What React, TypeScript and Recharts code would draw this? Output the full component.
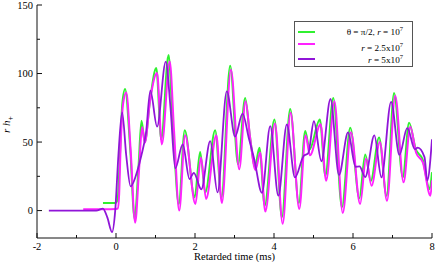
import React from 'react';
import { LineChart, Line, XAxis, YAxis, Legend, Label } from 'recharts';

// theta = pi/2, r = 1e7
const greenTime = [-0.33, -0.15, -0.02, 0.04, 0.1, 0.16, 0.23, 0.36, 0.47, 0.57, 0.645, 0.73, 0.86, 1.02, 1.145, 1.33, 1.44, 1.59, 1.74, 1.99, 2.13, 2.26, 2.51, 2.67, 2.89, 3.09, 3.27, 3.39, 3.52, 3.63, 3.765, 4.01, 4.2, 4.41, 4.63, 4.79, 4.9, 5.16, 5.3, 5.5, 5.72, 5.93, 6.16, 6.31, 6.45, 6.66, 6.85, 7.04, 7.26, 7.42, 7.59, 7.76, 7.94, 8.0];
const greenH = [5.5, 5.5, 5.6, 8, 40, 78, 88.7, 45, -6, 32, 65.5, 50, 80, 104, 52, 113.5, 62, 4.8, 58.7, 9.7, 42.8, 13.3, 58.7, 9.7, 105.6, 33.8, 82.2, 54.5, 32, 45.9, 3.6, 66.4, -4.8, 74.2, 5.6, 58, 44.7, 66.4, 25.4, 82.2, 2.4, 60.4, 9, 41, 21.7, 53.4, 10.9, 85.8, 24.2, 64, 44.7, 37.5, 15.7, 28];

// r = 2.5e7
const magentaTime = [-0.83, -0.3, 0.0, 0.045, 0.08, 0.115, 0.18, 0.26, 0.37, 0.485, 0.58, 0.66, 0.73, 0.86, 1.04, 1.16, 1.36, 1.47, 1.6, 1.75, 2.01, 2.15, 2.28, 2.54, 2.68, 2.91, 3.12, 3.28, 3.4, 3.53, 3.65, 3.78, 4.025, 4.22, 4.42, 4.64, 4.8, 4.91, 5.18, 5.32, 5.53, 5.74, 5.95, 6.18, 6.33, 6.47, 6.68, 6.86, 7.07, 7.28, 7.45, 7.6, 7.77, 7.96, 8.0];
const magentaH = [1, 1, 1.2, 1.5, 12, 44.7, 78, 86.2, 44.7, -8.9, 28, 61, 49.6, 79.7, 100.3, 48.3, 108.7, 58, 0, 54.9, 4.8, 38.7, 8.5, 54.9, 5.6, 102.7, 30.2, 79.7, 52, 29.7, 42.3, -0.7, 63.6, -9.6, 71.3, 1.2, 54.9, 40.4, 63, 21.7, 79.7, -1.7, 57.2, 4.8, 38, 18.1, 50, 7.2, 83.8, 20.6, 61.2, 42, 35, 10.9, 22];

// r = 5e7
const purpleTime = [-1.7, -0.5, -0.33, -0.22, -0.1, -0.02, 0.06, 0.155, 0.26, 0.37, 0.55, 0.64, 0.76, 0.87, 1.04, 1.26, 1.38, 1.5, 1.69, 1.86, 1.97, 2.16, 2.385, 2.57, 2.805, 3.015, 3.205, 3.36, 3.5, 3.695, 3.905, 4.11, 4.325, 4.53, 4.745, 4.87, 5.01, 5.2, 5.43, 5.645, 5.875, 6.065, 6.165, 6.31, 6.54, 6.72, 6.965, 7.175, 7.375, 7.565, 7.64, 7.81, 7.88, 8.0];
const purpleH = [0, 0, 1.5, -5, -15.7, 0, 40, 71.7, 40, 17.7, 30, 40, 56.8, 87.5, 61.3, 108.7, 75, 30.8, 48.3, 23, 27.5, 15.5, 50.7, 13.3, 87, 54, 70.8, 53.2, 37.5, 13, 61.6, 10.9, 62.8, 24.2, 39.6, 42, 65.2, 36, 81.4, 26, 57, 32, 32.2, 24.5, 54.9, 24.2, 79.3, 40.7, 60.4, 44.7, 45.9, 39, 22, 52];

const xTicks = [-2, -1, 0, 1, 2, 3, 4, 5, 6, 7, 8];
const yTicks = [0, 25, 50, 75, 100, 125, 150];

const toPoints = (ts: number[], vs: number[]) => ts.map((t, i) => ({ t, v: vs[i] }));

const serif = 'Liberation Serif, DejaVu Serif, Times New Roman, serif';

const BottomTick = (props: any) => {
  const { x, y, payload } = props;
  const major = payload.value % 2 === 0;
  return (
    <g>
      <line x1={x} y1={y} x2={x} y2={y - (major ? 5 : 3)} stroke="#111" />
      {major && (
        <text x={x} y={y + 11.5} textAnchor="middle" fontSize={10.5} style={{ fontFamily: serif }} fill="#000">
          {payload.value}
        </text>
      )}
    </g>
  );
};

const TopTick = (props: any) => {
  const { x, y, payload } = props;
  const major = payload.value % 2 === 0;
  return <line x1={x} y1={y} x2={x} y2={y + (major ? 5 : 3)} stroke="#111" />;
};

const LeftTick = (props: any) => {
  const { x, y, payload } = props;
  const major = payload.value % 50 === 0;
  return (
    <g>
      <line x1={x} y1={y} x2={x + (major ? 5 : 3)} y2={y} stroke="#111" />
      {major && (
        <text x={x - 4} y={y} dy="0.35em" textAnchor="end" fontSize={10.5} style={{ fontFamily: serif }} fill="#000">
          {payload.value}
        </text>
      )}
    </g>
  );
};

const RightTick = (props: any) => {
  const { x, y, payload } = props;
  const major = payload.value % 50 === 0;
  return <line x1={x} y1={y} x2={x - (major ? 5 : 3)} y2={y} stroke="#111" />;
};

const renderYLabel = (props: any) => {
  const { viewBox } = props;
  const cy = viewBox.y + viewBox.height / 2 + 3;
  return (
    <text transform={`translate(10, ${cy}) rotate(-90)`} textAnchor="middle" fontSize={11} style={{ fontFamily: serif }} fill="#000">
      <tspan fontStyle="italic">r</tspan>
      <tspan> </tspan>
      <tspan fontStyle="italic">h</tspan>
      <tspan fontSize={8} dy={3}>+</tspan>
    </text>
  );
};

const renderXLabel = (props: any) => {
  const { viewBox } = props;
  return (
    <text x={viewBox.x + viewBox.width / 2} y={viewBox.y + viewBox.height - 2.5} textAnchor="middle" fontSize={10.5} style={{ fontFamily: serif }} fill="#000">
      Retarded time (ms)
    </text>
  );
};

const sup = (s: string) => (
  <span style={{ fontSize: 6.5, position: 'relative', top: -4, lineHeight: 0 }}>{s}</span>
);

const legendLabels = [
  <>θ = π/2, <i>r</i> = 10{sup('7')}</>,
  <><i>r</i> = 2.5x10{sup('7')}</>,
  <><i>r</i> = 5x10{sup('7')}</>,
];
const sampleTops = [9, 20.5, 36];
const textTops = [5, 20.5, 32.5];

const LegendBox = (props: any) => {
  const { payload } = props;
  return (
    <div style={{ position: 'relative', width: 119, height: 46, border: '1.5px solid #555', background: '#fff', boxSizing: 'border-box', fontFamily: serif, fontSize: 9.2, color: '#000' }}>
      {(payload || []).map((entry: any, i: number) => (
        <React.Fragment key={i}>
          <div style={{ position: 'absolute', left: 3, top: sampleTops[i], width: 17, height: 2, background: entry.color }} />
          <div style={{ position: 'absolute', right: 9, top: textTops[i], whiteSpace: 'nowrap', lineHeight: '11px', height: 11 }}>{legendLabels[i]}</div>
        </React.Fragment>
      ))}
    </div>
  );
};

export default function App() {
  return (
    <div style={{ position: 'absolute', left: 0, top: 0, background: '#fff' }}>
      <LineChart width={436} height={262} margin={{ top: 5, right: 4, left: 0, bottom: 0 }}>
        <XAxis dataKey="t" type="number" domain={[-2, 8]} ticks={xTicks} allowDataOverflow height={24}
          tickSize={0} tickMargin={0} tickLine={false} tick={BottomTick} axisLine={{ stroke: '#111' }} interval={0}>
          <Label content={renderXLabel} />
        </XAxis>
        <XAxis xAxisId="top" orientation="top" dataKey="t" type="number" domain={[-2, 8]} ticks={xTicks} allowDataOverflow height={0}
          tickSize={0} tickMargin={0} tickLine={false} tick={TopTick} axisLine={{ stroke: '#111' }} interval={0} />
        <YAxis type="number" domain={[-20, 150]} ticks={yTicks} allowDataOverflow width={37}
          tickSize={0} tickMargin={0} tickLine={false} tick={LeftTick} axisLine={{ stroke: '#111' }} interval={0}>
          <Label content={renderYLabel} />
        </YAxis>
        <YAxis yAxisId="right" orientation="right" type="number" domain={[-20, 150]} ticks={yTicks} allowDataOverflow width={0}
          tickSize={0} tickMargin={0} tickLine={false} tick={RightTick} axisLine={{ stroke: '#111' }} interval={0} />
        <Legend layout="vertical" align="center" verticalAlign="middle" content={LegendBox}
          wrapperStyle={{ left: 294, top: 21, width: 119, height: 46 }} />
        <Line name="g" data={toPoints(greenTime, greenH)} dataKey="v" type="monotone" stroke="#30f030" strokeWidth={2} dot={false} isAnimationActive={false} />
        <Line name="m" data={toPoints(magentaTime, magentaH)} dataKey="v" type="monotone" stroke="#ff22ff" strokeWidth={2} dot={false} isAnimationActive={false} />
        <Line name="p" data={toPoints(purpleTime, purpleH)} dataKey="v" type="monotone" stroke="#9015d8" strokeWidth={1.8} dot={false} isAnimationActive={false} />
      </LineChart>
    </div>
  );
}
